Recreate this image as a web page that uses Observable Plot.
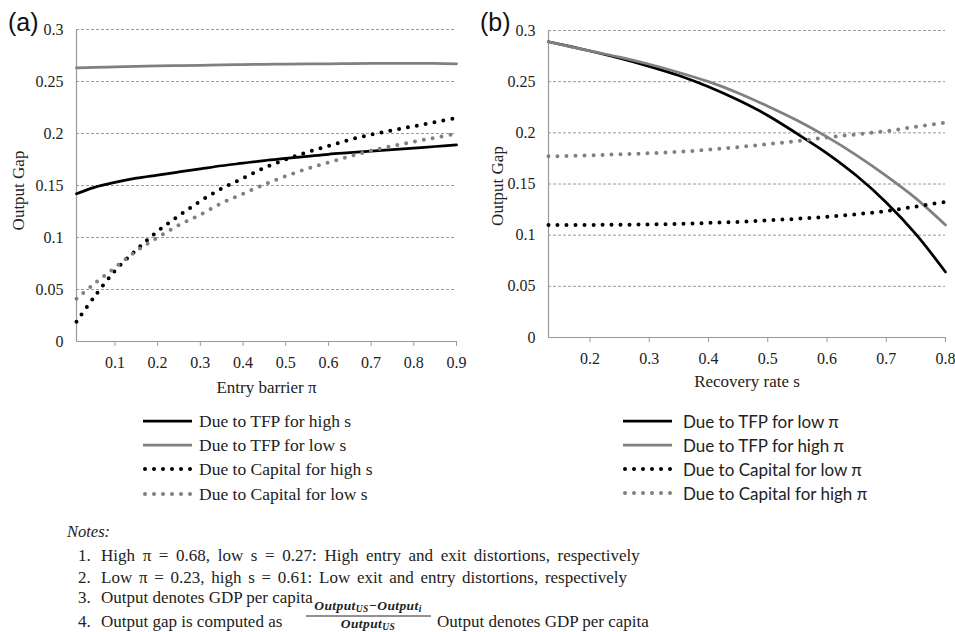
<!DOCTYPE html>
<html><head><meta charset="utf-8">
<script src="https://cdn.jsdelivr.net/npm/d3@7"></script>
<script src="https://cdn.jsdelivr.net/npm/@observablehq/plot@0.6"></script>
<style>
body{margin:0;background:#fff;}
#root{position:relative;width:955px;height:632px;overflow:hidden;background:#fff;}
</style></head><body><div id="root"></div>
<script>
// ---------- data ----------
const yTicks = [0, 0.05, 0.1, 0.15, 0.2, 0.25, 0.3];

// Panel (a): Entry barrier π
const xA = [0.01, 0.05, 0.1, 0.15, 0.2, 0.25, 0.3, 0.35, 0.4, 0.45, 0.5, 0.55, 0.6, 0.65, 0.7, 0.75, 0.8, 0.85, 0.9];
const xTicksA = [0.1, 0.2, 0.3, 0.4, 0.5, 0.6, 0.7, 0.8, 0.9];
const tfpHighS   = [0.142, 0.148, 0.153, 0.157, 0.160, 0.163, 0.166, 0.169, 0.1715, 0.174, 0.176, 0.178, 0.180, 0.1815, 0.183, 0.1845, 0.186, 0.1875, 0.189];
const tfpLowS    = [0.263, 0.2635, 0.264, 0.2645, 0.265, 0.2652, 0.2655, 0.266, 0.2662, 0.2665, 0.2667, 0.267, 0.267, 0.2672, 0.2674, 0.2675, 0.2675, 0.2674, 0.267];
const capHighS   = [0.019, 0.042, 0.068, 0.088, 0.106, 0.121, 0.135, 0.147, 0.157, 0.167, 0.175, 0.182, 0.188, 0.194, 0.199, 0.203, 0.207, 0.211, 0.215];
const capLowS    = [0.041, 0.055, 0.071, 0.087, 0.100, 0.112, 0.122, 0.133, 0.142, 0.151, 0.159, 0.166, 0.172, 0.178, 0.1835, 0.188, 0.192, 0.196, 0.200];
const labelsA = ["Due to TFP for high s", "Due to TFP for low s", "Due to Capital for high s", "Due to Capital for low s"];

// Panel (b): Recovery rate s
const xB = [0.13, 0.2, 0.25, 0.3, 0.35, 0.4, 0.45, 0.5, 0.55, 0.6, 0.65, 0.7, 0.75, 0.8];
const xTicksB = [0.2, 0.3, 0.4, 0.5, 0.6, 0.7, 0.8];
const tfpLowPi   = [0.289, 0.280, 0.273, 0.265, 0.256, 0.245, 0.232, 0.217, 0.199, 0.180, 0.158, 0.132, 0.101, 0.064];
const tfpHighPi  = [0.289, 0.280, 0.274, 0.267, 0.259, 0.250, 0.239, 0.226, 0.212, 0.196, 0.178, 0.158, 0.136, 0.110];
const capLowPi   = [0.110, 0.110, 0.1102, 0.1105, 0.111, 0.112, 0.113, 0.1145, 0.116, 0.118, 0.1205, 0.1235, 0.128, 0.1325];
const capHighPi  = [0.177, 0.178, 0.179, 0.180, 0.1815, 0.1835, 0.186, 0.189, 0.192, 0.1955, 0.1985, 0.2017, 0.206, 0.210];
const labelsB = ["Due to TFP for low π", "Due to TFP for high π", "Due to Capital for low π", "Due to Capital for high π"];

const notesTitle = "Notes:";
const notes = [
  "High π  = 0.68, low s = 0.27: High entry and exit distortions, respectively",
  "Low π = 0.23, high s = 0.61: Low exit and entry distortions, respectively",
  "Output denotes GDP per capita",
  "Output gap is computed as"
];
const noteTail = "Output denotes GDP per capita";

// ---------- styles ----------
const BLACK = "#000", GRAY = "#808080";
const styles = [
  {stroke: BLACK, dotted: false},
  {stroke: GRAY, dotted: false},
  {stroke: BLACK, dotted: true},
  {stroke: GRAY, dotted: true}
];
const fmt = d => d === 0 ? "0" : String(d);
const SERIF = "'Liberation Serif', 'Times New Roman', serif";

function seriesMarks(xs, seriesList) {
  return seriesList.map((vals, k) => {
    const data = xs.map((x, i) => ({x, y: vals[i]}));
    const s = styles[k];
    return s.dotted
      ? Plot.line(data, {x: "x", y: "y", stroke: s.stroke, strokeWidth: 4, strokeDasharray: "0 9", strokeLinecap: "round", curve: "catmull-rom"})
      : Plot.line(data, {x: "x", y: "y", stroke: s.stroke, strokeWidth: 2.75, curve: "catmull-rom"});
  });
}

function panel({xs, seriesList, xDomain, xTicks, xLabel, width, mL, mR, mT, mB, yDx, yDy, xDy}) {
  return Plot.plot({
    width, height: 400,
    marginLeft: mL, marginRight: mR, marginTop: mT, marginBottom: mB,
    x: {domain: xDomain, axis: null},
    y: {domain: [0, 0.3], axis: null},
    style: {fontFamily: SERIF, fontSize: "16px", background: "transparent", color: "#222"},
    marks: [
      Plot.gridY(yTicks.slice(1), {stroke: "#9a9a9a", strokeOpacity: 1, strokeDasharray: "3 2"}),
      Plot.ruleX([xDomain[0]], {stroke: "#9a9a9a", strokeWidth: 1.2}),
      Plot.ruleY([0], {stroke: "#9a9a9a", strokeWidth: 1.2}),
      Plot.axisX({ticks: xTicks, tickSize: 5, tickPadding: 10, tickFormat: fmt, stroke: "#9a9a9a", fill: "#222", label: null}),
      Plot.axisY({ticks: yTicks, tickSize: 0, tickPadding: 13, tickFormat: fmt, fill: "#222", label: null}),
      ...seriesMarks(xs, seriesList),
      Plot.text([xLabel], {text: d => d, frameAnchor: "bottom", lineAnchor: "middle", dy: xDy, fontSize: 17, fill: "#222"}),
      Plot.text(["Output Gap"], {text: d => d, frameAnchor: "left", textAnchor: "middle", lineAnchor: "middle", dx: yDx, dy: yDy, rotate: -90, fontSize: 17, fill: "#222"})
    ]
  });
}

const root = document.getElementById("root");
function place(node, left, top) {
  const wrap = document.createElement("div");
  wrap.style.position = "absolute";
  wrap.style.left = left + "px";
  wrap.style.top = top + "px";
  wrap.appendChild(node);
  root.appendChild(wrap);
}

place(panel({xs: xA, seriesList: [tfpHighS, tfpLowS, capHighS, capLowS], xDomain: [0.01, 0.9], xTicks: xTicksA,
  xLabel: "Entry barrier π", width: 470, mL: 76, mR: 14, mT: 29, mB: 59, yDx: -58, yDy: 5, xDy: 46}), 0, 0);
place(panel({xs: xB, seriesList: [tfpLowPi, tfpHighPi, capLowPi, capHighPi], xDomain: [0.13, 0.8], xTicks: xTicksB,
  xLabel: "Recovery rate s", width: 475, mL: 68, mR: 10, mT: 30, mB: 63, yDx: -51, yDy: 2, xDy: 44}), 480, 0);

// ---------- overlay: panel letters, legends, notes ----------
const ov = d3.select(root).append("svg")
  .attr("width", 955).attr("height", 632)
  .style("position", "absolute").style("left", 0).style("top", 0);

ov.append("text").attr("x", 8).attr("y", 31).attr("font-family", "'Liberation Sans', Arial, sans-serif").attr("font-size", 25).attr("fill", "#111").text("(a)");
ov.append("text").attr("x", 480).attr("y", 31).attr("font-family", "'Liberation Sans', Arial, sans-serif").attr("font-size", 25).attr("fill", "#111").text("(b)");

function legend(labels, x0, x1, tx, ys, font, size) {
  labels.forEach((lab, k) => {
    const s = styles[k], y = ys[k];
    const ln = ov.append("line").attr("x1", s.dotted ? x0 + 2 : x0).attr("x2", x1).attr("y1", y).attr("y2", y).attr("stroke", s.stroke);
    if (s.dotted) ln.attr("stroke-width", 4).attr("stroke-dasharray", "0 9").attr("stroke-linecap", "round");
    else ln.attr("stroke-width", 2.75);
    ov.append("text").attr("x", tx).attr("y", y).attr("dominant-baseline", "central")
      .attr("font-family", font).attr("font-size", size).attr("fill", "#222").text(lab);
  });
}
legend(labelsA, 143, 192, 199, [421, 445, 469, 494], SERIF, 17.5);
legend(labelsB, 623, 672, 683, [421, 445, 469, 493], "Lato, 'Open Sans', sans-serif", 17);

ov.append("text").attr("x", 67).attr("y", 531).attr("dominant-baseline", "central").attr("font-family", SERIF)
  .attr("font-style", "italic").attr("font-size", 16.5).attr("fill", "#222").text(notesTitle);
const noteYs = [555, 577, 597, 621];
const noteEnds = [643, 627, null, null];
notes.forEach((t, i) => {
  ov.append("text").attr("x", 78).attr("y", noteYs[i]).attr("dominant-baseline", "central").attr("font-family", SERIF)
    .attr("font-size", 17).attr("fill", "#222").text((i + 1) + ".");
  const tt = ov.append("text").attr("x", 101).attr("y", noteYs[i]).attr("dominant-baseline", "central").attr("font-family", SERIF)
    .attr("font-size", 17).attr("fill", "#222").text(t);
  if (noteEnds[i]) {
    const len = tt.node().getComputedTextLength();
    const spaces = (t.match(/ /g) || []).length;
    const extra = (noteEnds[i] - 101 - len) / spaces;
    if (extra > 0) tt.attr("word-spacing", extra.toFixed(2));
  }
});
// fraction: numerator and denominator
const fx = 368;
const num = ov.append("text").attr("x", fx).attr("y", 610).attr("text-anchor", "middle").attr("font-family", SERIF)
  .attr("font-style", "italic").attr("font-weight", "bold").attr("font-size", 13.5).attr("fill", "#222").attr("letter-spacing", 0.4);
num.append("tspan").text("Output");
num.append("tspan").attr("font-size", 9.5).attr("dy", 2).text("US");
num.append("tspan").attr("dy", -2).text("−Output");
num.append("tspan").attr("font-size", 9.5).attr("dy", 2).text("i");
ov.append("line").attr("x1", 306).attr("x2", 431).attr("y1", 616).attr("y2", 616).attr("stroke", "#222").attr("stroke-width", 1);
const den = ov.append("text").attr("x", fx).attr("y", 627.5).attr("text-anchor", "middle").attr("font-family", SERIF)
  .attr("font-style", "italic").attr("font-weight", "bold").attr("font-size", 13.5).attr("fill", "#222").attr("letter-spacing", 0.4);
den.append("tspan").text("Output");
den.append("tspan").attr("font-size", 9.5).attr("dy", 2).text("US");
ov.append("text").attr("x", 437).attr("y", 621).attr("dominant-baseline", "central").attr("font-family", SERIF)
  .attr("font-size", 17).attr("fill", "#222").text(noteTail);
</script>
</body></html>
